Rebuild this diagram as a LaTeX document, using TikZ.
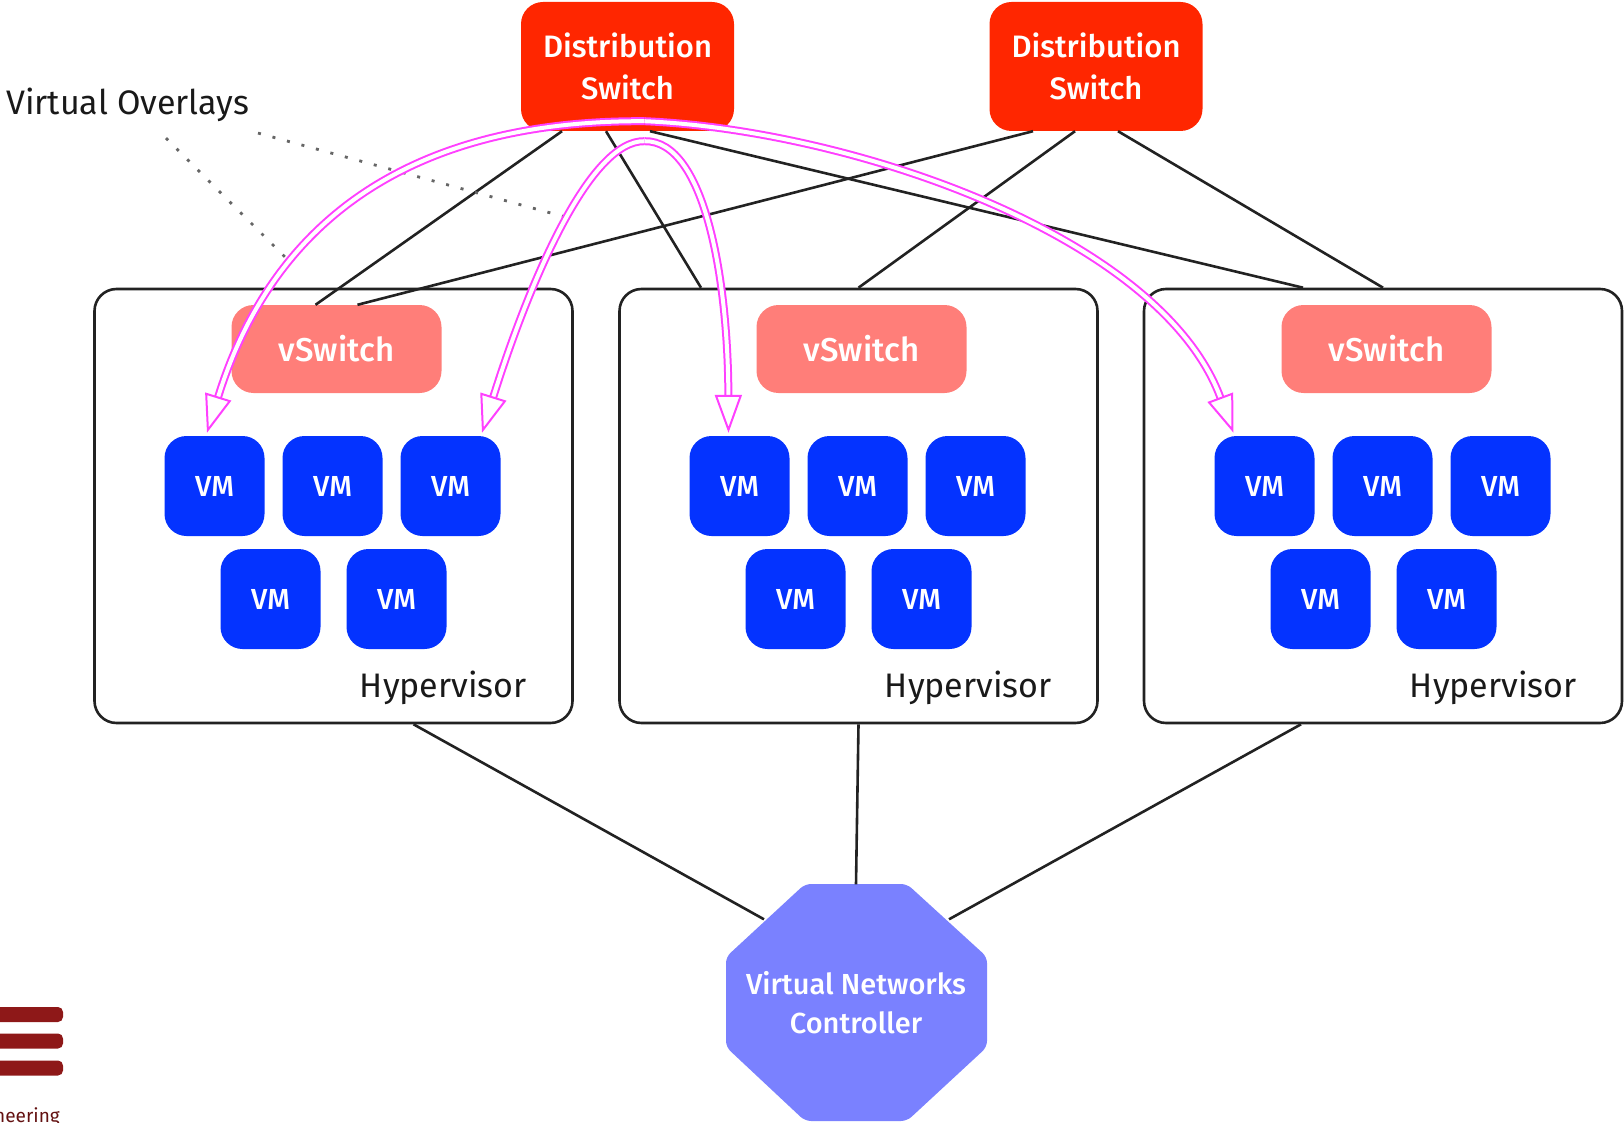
\documentclass[tikz,border=0pt]{standalone}
\usepackage{fontspec}
\setmainfont{Fira Sans}
\newfontfamily\medfont{Fira Sans Medium}
\usetikzlibrary{arrows.meta}
\definecolor{dsred}{RGB}{255,38,0}
\definecolor{vssalmon}{RGB}{255,126,121}
\definecolor{vmblue}{RGB}{4,51,255}
\definecolor{vncblue}{RGB}{122,129,255}
\definecolor{ovmagenta}{RGB}{255,64,255}
\definecolor{linegray}{RGB}{34,34,34}
\definecolor{logored}{RGB}{142,24,24}

\begin{document}
\begin{tikzpicture}[x=1pt,y=-1pt]
\tikzset{distswitch/.style={fill=dsred,rounded corners=22pt,minimum width=213pt,minimum height=129pt,inner sep=0pt,align=center,text=white,font=\medfont\fontsize{31}{42}\selectfont}}
\tikzset{vswitch/.style={fill=vssalmon,rounded corners=22pt,minimum width=210pt,minimum height=88pt,inner sep=0pt,text=white,font=\medfont\fontsize{33}{36}\selectfont}}
\tikzset{vm/.style={fill=vmblue,rounded corners=22pt,minimum size=100pt,inner sep=0pt,text=white,font=\medfont\fontsize{29}{32}\selectfont}}
\tikzset{hypervisor/.style={draw=linegray,line width=2.6pt,rounded corners=22pt,minimum width=478pt,minimum height=434pt,inner sep=0pt}}
\tikzset{hvlabel/.style={anchor=east,inner sep=0pt,text=black!90,font=\fontsize{34}{38}\selectfont}}
\tikzset{link/.style={draw=linegray,line width=2.6pt}}
\tikzset{leader/.style={draw=black!60,line width=2.8pt,dash pattern=on 3pt off 12pt}}
\tikzset{ovarrow/.style={draw=ovmagenta,line width=2pt,double=white,double distance=4pt,-{Triangle[open,length=38pt,width=27pt,fill=white,line width=2pt]}}}
\tikzset{logobar/.style={fill=logored,rounded corners=5pt,minimum width=83pt,minimum height=15pt,inner sep=0pt}}

\useasboundingbox (0,0) rectangle (1624,1123);
\clip (0,0) rectangle (1624,1123);

\node[hypervisor] (hva) at (333.5,506) {};
\node[hypervisor] (hvb) at (858.5,506) {};
\node[hypervisor] (hvc) at (1383,506) {};

\node[vswitch] (vsa) at (336.5,349) {vSwitch};
\node[vswitch] (vsb) at (861.5,349) {vSwitch};
\node[vswitch] (vsc) at (1386.5,349) {vSwitch};

\node[vm] (vma) at (214.5,486) {VM};
\node[vm] (vmb) at (332.5,486) {VM};
\node[vm] (vmc) at (450.5,486) {VM};
\node[vm] (vmd) at (270.5,599) {VM};
\node[vm] (vme) at (396.5,599) {VM};

\node[vm] (vmf) at (739.5,486) {VM};
\node[vm] (vmg) at (857.5,486) {VM};
\node[vm] (vmh) at (975.5,486) {VM};
\node[vm] (vmi) at (795.5,599) {VM};
\node[vm] (vmj) at (921.5,599) {VM};

\node[vm] (vmk) at (1264.5,486) {VM};
\node[vm] (vml) at (1382.5,486) {VM};
\node[vm] (vmm) at (1500.5,486) {VM};
\node[vm] (vmn) at (1320.5,599) {VM};
\node[vm] (vmo) at (1446.5,599) {VM};

\node[hvlabel] (hla) at (527,688) {Hypervisor};
\node[hvlabel] (hlb) at (1052,688) {Hypervisor};
\node[hvlabel] (hlc) at (1577,688) {Hypervisor};

\node[distswitch] (dsa) at (627.5,66.5) {Distribution\\Switch};
\node[distswitch] (dsb) at (1096,66.5) {Distribution\\Switch};

\fill[vncblue,rounded corners=6pt] (726,957) -- (805,884) -- (907,884) -- (987,957) -- (987,1047) -- (907,1121) -- (805,1121) -- (726,1047) -- cycle;
\node[minimum width=262pt,minimum height=237pt,inner sep=0pt,align=center,text=white,font=\medfont\fontsize{29}{39}\selectfont] (vnc) at (856,1003) {Virtual Networks\\Controller};

\node[anchor=west,inner sep=0pt,text=black!90,font=\fontsize{34}{38}\selectfont] (vo) at (6,105) {Virtual Overlays};

\draw[link] ([xshift=-65.5pt]dsa.south) -- ([xshift=-21pt]vsa.north);
\draw[link] ([xshift=-21.5pt]dsa.south) -- ([xshift=-157.5pt]hvb.north);
\draw[link] ([xshift=22.5pt]dsa.south) -- ([xshift=-80pt]hvc.north);
\draw[link] ([xshift=-63pt]dsb.south) -- ([xshift=21pt]vsa.north);
\draw[link] ([xshift=-21pt]dsb.south) -- (hvb.north);
\draw[link] ([xshift=22pt]dsb.south) -- (hvc.north);

\draw[link] ([xshift=80pt]hva.south) -- ([xshift=-92pt,yshift=-35pt]vnc.north);
\draw[link] (hvb.south) -- (vnc.north);
\draw[link] ([xshift=-82pt]hvc.south) -- ([xshift=93pt,yshift=-35pt]vnc.north);

\coordinate (vopa) at (288,260);
\coordinate (vopb) at (569,218);
\draw[leader] ([xshift=160pt,yshift=-16pt]vo.south west) -- (vopa);
\draw[leader] ([xshift=252pt,yshift=-11pt]vo.south west) -- (vopb);

\draw[ovarrow] ([xshift=17pt,yshift=10pt]dsa.south) .. controls (400,120) and (270,230) .. ([xshift=-7.5pt,yshift=3pt]vma.north);
\draw[ovarrow] ([xshift=17pt,yshift=-10pt]dsa.south) .. controls (590,140) and (530,280) .. ([xshift=31.5pt,yshift=3pt]vmc.north);
\draw[ovarrow] ([xshift=17pt,yshift=-10pt]dsa.south) .. controls (705,140) and (728,280) .. ([xshift=-11pt,yshift=3pt]vmf.north);
\draw[ovarrow] ([xshift=17pt,yshift=10pt]dsa.south) .. controls (850,130) and (1160,235) .. ([xshift=-31pt,yshift=3pt]vmk.north);

\node[logobar] (bara) at (21.5,1014.5) {};
\node[logobar] (barb) at (21.5,1041) {};
\node[logobar] (barc) at (21.5,1068) {};
\node[anchor=base east,inner sep=0pt,text=logored!70!black,font=\fontsize{19}{22}\selectfont] (eng) at (60,1122) {neering};
\end{tikzpicture}
\end{document}
